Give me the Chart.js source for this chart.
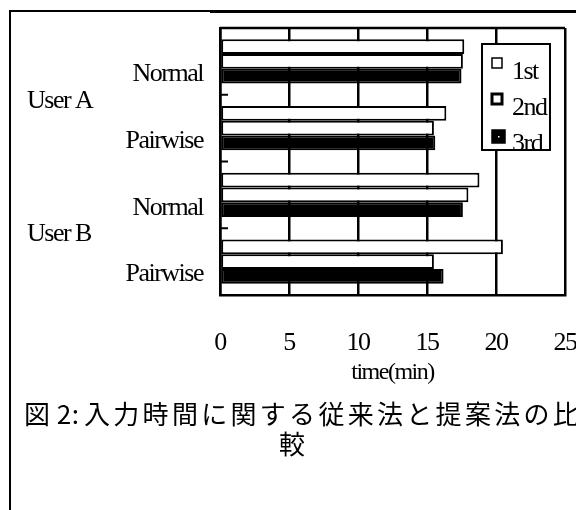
<!DOCTYPE html>
<html>
<head>
<meta charset="utf-8">
<script src="https://cdn.jsdelivr.net/npm/chart.js@4.4.0/dist/chart.umd.min.js"></script>
<style>
  html, body { margin: 0; padding: 0; background: #fff; }
  #wrap { position: relative; width: 576px; height: 510px; overflow: hidden; background: #fff; }
  #chart { position: absolute; left: 0; top: 0; }
  .cap {
    position: absolute;
    font-family: "Noto Sans CJK JP", sans-serif;
    font-size: 26px;
    line-height: 30px;
    color: #000;
    white-space: pre;
    letter-spacing: 3.3px;
  }
  .cap.num { letter-spacing: 0.5px; }
</style>
</head>
<body>
<div id="wrap">
  <canvas id="chart" width="576" height="510"></canvas>
  <div class="cap num" style="left:24px;top:398px">図 2:</div>
  <div class="cap" style="left:84px;top:398px">入力時間に関する従来法と提案法の比</div>
  <div class="cap" style="left:279px;top:428px">較</div>
</div>
<script>
// Input time (minutes) per user and method, for three trials
const categories = ['Normal', 'Pairwise', 'Normal', 'Pairwise'];
const userGroups = ['User A', 'User B'];
const seriesNames = ['1st', '2nd', '3rd'];
const trial1 = [17.7, 16.4, 18.8, 20.5];
const trial2 = [17.6, 15.5, 18.0, 15.5];
const trial3 = [17.5, 15.6, 17.6, 16.2];
const xMin = 0, xMax = 25, xStep = 5;
const xTitle = 'time(min)';

const SERIF = '"Liberation Serif", "Times New Roman", serif';
const TIGHT = '-1.5px';

// condensed serif look for all canvas text
const tightText = {
  id: 'tightText',
  beforeUpdate(chart) { chart.ctx.letterSpacing = TIGHT; },
  beforeDraw(chart) { chart.ctx.letterSpacing = TIGHT; }
};

// white page and the figure's outer rule lines
const pageFrame = {
  id: 'pageFrame',
  beforeDraw(chart) {
    const ctx = chart.ctx;
    ctx.save();
    ctx.fillStyle = '#fff';
    ctx.fillRect(0, 0, chart.width, chart.height);
    ctx.strokeStyle = '#000';
    ctx.lineWidth = 2;
    ctx.beginPath();
    ctx.moveTo(10, chart.height);
    ctx.lineTo(10, 11);
    ctx.lineTo(chart.width, 11);
    ctx.stroke();
    ctx.lineWidth = 3;
    ctx.beginPath();
    ctx.moveTo(210, 11.5);
    ctx.lineTo(chart.width, 11.5);
    ctx.stroke();
    ctx.restore();
  }
};

// plot box top, inward category ticks, group labels and the boxed legend
const decorations = {
  id: 'decorations',
  afterDraw(chart) {
    const ctx = chart.ctx;
    const area = chart.chartArea;
    const y = chart.scales.y;
    ctx.save();
    ctx.letterSpacing = TIGHT;
    ctx.strokeStyle = '#000';
    ctx.lineWidth = 2.5;
    ctx.beginPath();
    ctx.moveTo(area.left, area.top);
    ctx.lineTo(area.right, area.top);
    ctx.stroke();

    // short inward ticks between categories
    ctx.lineWidth = 2;
    for (let i = 1; i < categories.length; i++) {
      const yy = (y.getPixelForValue(i - 1) + y.getPixelForValue(i)) / 2;
      ctx.beginPath();
      ctx.moveTo(area.left, yy);
      ctx.lineTo(area.left + 8, yy);
      ctx.stroke();
    }

    // user group labels
    ctx.fillStyle = '#000';
    ctx.font = '26px ' + SERIF;
    ctx.textAlign = 'left';
    ctx.textBaseline = 'middle';
    userGroups.forEach((g, k) => {
      const yy = (y.getPixelForValue(2 * k) + y.getPixelForValue(2 * k + 1)) / 2 + 6;
      ctx.fillText(g, 27, yy);
    });

    // legend box
    const bx = area.right - 83, by = 44, bw = 68, bh = 106;
    ctx.fillStyle = '#fff';
    ctx.fillRect(bx, by, bw, bh);
    ctx.save();
    ctx.beginPath();
    ctx.rect(bx, by, bw, bh + 4);
    ctx.clip();
    chart.data.datasets.forEach((ds, i) => {
      const iy = by + 14 + i * 36;
      const s = i === 2 ? 13 : 10;
      ctx.fillStyle = ds.backgroundColor;
      ctx.fillRect(bx + 10, iy, s, s);
      ctx.strokeStyle = '#000';
      ctx.lineWidth = i === 1 ? 3 : 1.5;
      ctx.strokeRect(bx + 10, iy, s, s);
      if (i === 2) {
        ctx.fillStyle = '#fff';
        ctx.fillRect(bx + 16, iy + 6, 1.5, 1.5);
      }
      ctx.fillStyle = '#000';
      ctx.font = '26px ' + SERIF;
      ctx.textBaseline = 'middle';
      ctx.fillText(ds.label, bx + 30, iy + 14);
    });
    ctx.restore();
    ctx.strokeStyle = '#000';
    ctx.lineWidth = 2;
    ctx.strokeRect(bx, by, bw, bh);
    ctx.restore();
  }
};

const fills = ['#ffffff', '#ffffff', '#000000'];
const values = [trial1, trial2, trial3];

new Chart(document.getElementById('chart'), {
  type: 'bar',
  data: {
    labels: categories,
    datasets: seriesNames.map((name, i) => ({
      label: name,
      data: values[i],
      backgroundColor: fills[i],
      borderColor: '#000',
      borderWidth: 2,
      borderSkipped: false,
      categoryPercentage: 0.66,
      barPercentage: 1.0
    }))
  },
  options: {
    indexAxis: 'y',
    responsive: false,
    animation: false,
    devicePixelRatio: 1,
    layout: { padding: { left: 0, right: 11, top: 28, bottom: 123 } },
    plugins: {
      legend: { display: false },
      tooltip: { enabled: false }
    },
    scales: {
      x: {
        min: xMin,
        max: xMax,
        ticks: {
          stepSize: xStep,
          padding: 33,
          maxRotation: 0,
          color: '#000',
          font: { family: SERIF, size: 26 }
        },
        grid: { color: '#000', lineWidth: 2.5, drawTicks: false },
        border: { display: true, color: '#000', width: 2.5 },
        title: {
          display: true,
          text: xTitle,
          color: '#000',
          padding: 0,
          font: { family: SERIF, size: 24 }
        },
        afterFit(scale) {
          scale.height = 92;
          scale.paddingLeft = 0;
          scale.paddingRight = 0;
        }
      },
      y: {
        ticks: {
          padding: 17,
          labelOffset: 13,
          color: '#000',
          font: { family: SERIF, size: 26 }
        },
        grid: { display: false, drawTicks: false },
        border: { display: true, color: '#000', width: 2.5 },
        afterFit(scale) {
          scale.width = 220;
          scale.paddingTop = 0;
          scale.paddingBottom = 0;
        }
      }
    }
  },
  plugins: [tightText, pageFrame, decorations]
});
</script>
</body>
</html>
